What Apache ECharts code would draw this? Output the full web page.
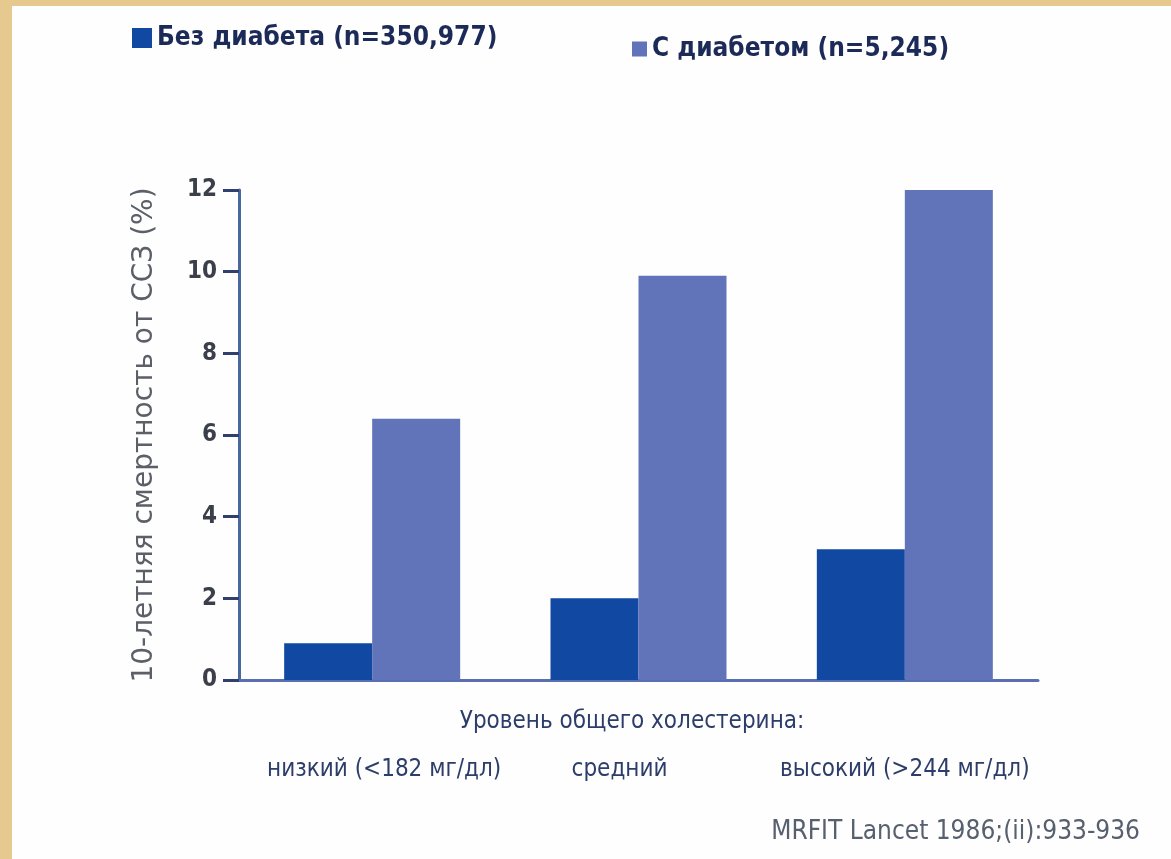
<!DOCTYPE html>
<html>
<head>
<meta charset="utf-8">
<script src="https://cdn.jsdelivr.net/npm/echarts@6/dist/echarts.min.js"></script>
<style>
  html, body { margin: 0; padding: 0; background: #e6c98f; }
  #chart { width: 1171px; height: 859px; }
</style>
</head>
<body>
<div id="chart"></div>
<script>
// Cholesterol level groups (x-axis)
const categories = ['низкий (<182 мг/дл)', 'средний', 'высокий (>244 мг/дл)'];
// 10-year CVD mortality, %
const noDiabetes = [0.9, 2.0, 3.2];
const withDiabetes = [6.4, 9.9, 12.0];
const seriesNames = ['Без диабета (n=350,977)', 'С диабетом (n=5,245)'];
const yTicks = { min: 0, max: 12, interval: 2 };

const NARROW = '"Liberation Sans Narrow", "DejaVu Sans Condensed", "Liberation Sans", sans-serif';
const WIDE = '"DejaVu Sans", "Liberation Sans", sans-serif';

// category labels sit slightly off their tick centres
const labelPad = [[0, 0, 0, 24], [0, 38, 0, 0], [0, 0, 0, 0]];

const chart = echarts.init(document.getElementById('chart'));
chart.setOption({
  backgroundColor: '#e6c98f',
  animation: false,
  graphic: [
    // white sheet over the parchment frame
    { type: 'rect', left: 12, top: 6, z: -10,
      shape: { width: 1171 - 12, height: 859 - 6 },
      style: { fill: '#fefefe' } },
    // x-axis caption
    { type: 'text', x: 632, y: 722,
      style: { text: 'Уровень общего холестерина:', font: '24px ' + NARROW, fill: '#2d3d6a',
               align: 'center', verticalAlign: 'middle' } },
    // source
    { type: 'text', x: 1140, y: 832,
      style: { text: 'MRFIT Lancet 1986;(ii):933-936', font: '26px ' + NARROW, fill: '#56606e',
               align: 'right', verticalAlign: 'middle' } }
  ],
  legend: [
    { data: [seriesNames[0]], left: 127, top: 20, itemWidth: 20, itemHeight: 20, itemGap: 8,
      icon: 'rect',
      textStyle: { fontFamily: NARROW, fontWeight: 'bold', fontSize: 26, color: '#1c2a58' } },
    { data: [seriesNames[1]], left: 627, top: 31, itemWidth: 15, itemHeight: 15, itemGap: 8,
      icon: 'rect',
      textStyle: { fontFamily: NARROW, fontWeight: 'bold', fontSize: 26, color: '#1c2a58' } }
  ],
  grid: { left: 239, right: 133, top: 190, bottom: 179 },
  xAxis: {
    type: 'category',
    data: categories,
    axisLine: { lineStyle: { color: '#5a6fb0', width: 3 } },
    axisTick: { alignWithLabel: true, length: 13, lineStyle: { color: '#2a2f3e', width: 2 } },
    axisLabel: {
      interval: 0, margin: 78,
      formatter: (v, i) => '{c' + i + '|' + v + '}',
      rich: Object.fromEntries(labelPad.map((p, i) => ['c' + i,
        { padding: p, fontFamily: NARROW, fontSize: 24, color: '#2d3d6a' }]))
    }
  },
  yAxis: {
    type: 'value',
    min: yTicks.min, max: yTicks.max, interval: yTicks.interval,
    name: '10-летняя смертность от ССЗ (%)',
    nameLocation: 'middle',
    nameGap: 80,
    nameTextStyle: { fontFamily: WIDE, fontSize: 28, color: '#5a5f68' },
    axisLine: { show: true, lineStyle: { color: '#4a68a0', width: 3 } },
    axisTick: { show: true, length: 16, lineStyle: { color: '#2f3f6e', width: 3 } },
    axisLabel: { margin: 22, fontFamily: NARROW, fontWeight: 'bold', fontSize: 24, color: '#3a3f4a' },
    splitLine: { show: false }
  },
  series: [
    { name: seriesNames[0], type: 'bar', data: noDiabetes, barWidth: 88, barGap: '0%',
      itemStyle: { color: '#1148a2' } },
    { name: seriesNames[1], type: 'bar', data: withDiabetes, barWidth: 88, barGap: '0%',
      itemStyle: { color: '#6274b9' } }
  ]
});
</script>
</body>
</html>
